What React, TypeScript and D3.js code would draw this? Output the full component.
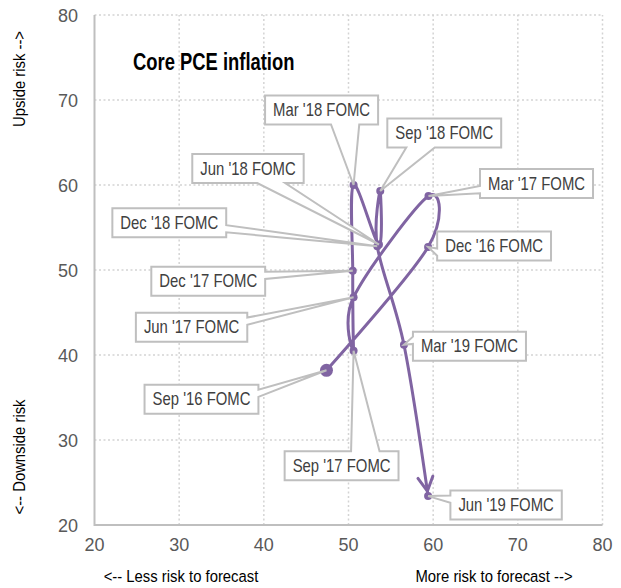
import { useRef, useEffect } from 'react';
import * as d3 from 'd3';

// FOMC meetings, in path order
const meetings = [
  "Sep '16 FOMC",
  "Dec '16 FOMC",
  "Mar '17 FOMC",
  "Jun '17 FOMC",
  "Sep '17 FOMC",
  "Dec '17 FOMC",
  "Mar '18 FOMC",
  "Jun '18 FOMC",
  "Sep '18 FOMC",
  "Dec '18 FOMC",
  "Mar '19 FOMC",
  "Jun '19 FOMC",
];
// less/more risk to forecast
const riskValues = [47.4, 59.4, 59.45, 50.6, 50.6, 50.5, 50.6, 53.6, 53.75, 53.4, 56.55, 59.4];
// downside/upside risk
const skewValues = [38.2, 52.7, 58.7, 46.8, 40.5, 49.9, 60.0, 53.0, 59.3, 52.8, 41.2, 23.4];

const xTicks = [20, 30, 40, 50, 60, 70, 80];
const yTicks = [20, 30, 40, 50, 60, 70, 80];

// callout box centre, offset in px from its point
const labelOffsets = [
  [-125, 29],
  [66, -1],
  [108, -12.5],
  [-162, 30],
  [-12, 115],
  [-144.5, 10.5],
  [-32, -75],
  [-131, -76],
  [64, -58],
  [-208, -23.5],
  [65.5, 1.5],
  [78, 9],
];

const PURPLE = '#8064a2';
const GRID = '#d4d4d4';
const SANS = '"Liberation Sans", Arial, sans-serif';

// condensed look: Arial metrics squeezed horizontally
function narrowText(parent, x, y, str, size, scale, opts = {}) {
  const t = parent
    .append('text')
    .attr('transform', `translate(${x},${y})${opts.rotate ? ` rotate(${opts.rotate})` : ''} scale(${scale},1)`)
    .attr('text-anchor', opts.anchor || 'start')
    .attr('font-family', SANS)
    .attr('font-size', size)
    .attr('font-weight', opts.weight || 'normal')
    .attr('fill', opts.fill || '#000')
    .text(str);
  return t;
}

export default function App() {
  const svgRef = useRef(null);

  useEffect(() => {
    if (!svgRef.current) return;
    document.body.style.margin = '0';

    const svg = d3.select(svgRef.current);
    svg.selectAll('*').remove();

    const x = d3.scaleLinear().domain([20, 80]).range([94.5, 602.5]);
    const y = d3.scaleLinear().domain([20, 80]).range([525, 15]);

    // gridlines
    const grid = svg.append('g');
    grid
      .selectAll('.vg')
      .data(xTicks.slice(1))
      .enter()
      .append('line')
      .attr('x1', (d) => x(d))
      .attr('x2', (d) => x(d))
      .attr('y1', y(20))
      .attr('y2', y(80))
      .attr('stroke', GRID)
      .attr('stroke-width', 1.5)
      .attr('stroke-dasharray', '2,2.5');
    grid
      .selectAll('.hg')
      .data(yTicks.slice(1))
      .enter()
      .append('line')
      .attr('x1', x(20))
      .attr('x2', x(80))
      .attr('y1', (d) => y(d))
      .attr('y2', (d) => y(d))
      .attr('stroke', GRID)
      .attr('stroke-width', 1.5)
      .attr('stroke-dasharray', '2,2.5');

    // axis lines
    svg
      .append('path')
      .attr('d', `M${x(20)},${y(80)}V${y(20)}H${x(80)}`)
      .attr('fill', 'none')
      .attr('stroke', '#bfbfbf')
      .attr('stroke-width', 2);

    // tick labels
    svg
      .selectAll('.xt')
      .data(xTicks)
      .enter()
      .append('text')
      .attr('x', (d) => x(d))
      .attr('y', 551)
      .attr('text-anchor', 'middle')
      .attr('font-family', SANS)
      .attr('font-size', 18)
      .attr('fill', '#595959')
      .text((d) => d);
    svg
      .selectAll('.yt')
      .data(yTicks)
      .enter()
      .append('text')
      .attr('x', 78)
      .attr('y', (d) => y(d) + 6.5)
      .attr('text-anchor', 'end')
      .attr('font-family', SANS)
      .attr('font-size', 18)
      .attr('fill', '#595959')
      .text((d) => d);

    // axis titles
    narrowText(svg, 181, 582, '<-- Less risk to forecast', 16.5, 0.9, { anchor: 'middle' });
    narrowText(svg, 494, 582, 'More risk to forecast -->', 16.5, 0.9, { anchor: 'middle' });
    narrowText(svg, 25, 79, 'Upside risk -->', 16.5, 0.9, { anchor: 'middle', rotate: -90 });
    narrowText(svg, 25, 457, '<-- Downside risk', 16.5, 0.9, { anchor: 'middle', rotate: -90 });

    // chart title
    narrowText(svg, 133, 70, 'Core PCE inflation', 23, 0.8, { weight: 'bold' });

    // arrow head
    svg
      .append('defs')
      .append('marker')
      .attr('id', 'arrow')
      .attr('viewBox', '-20 -12 26 24')
      .attr('markerUnits', 'userSpaceOnUse')
      .attr('markerWidth', 26)
      .attr('markerHeight', 24)
      .attr('refX', 5)
      .attr('refY', 0)
      .attr('orient', 'auto')
      .style('overflow', 'visible')
      .append('path')
      .attr('d', 'M-14,-7.5L0,0L-14,7.5')
      .attr('fill', 'none')
      .attr('stroke', PURPLE)
      .attr('stroke-width', 3)
      .attr('stroke-linecap', 'round');

    const idx = d3.range(meetings.length);
    const line = d3
      .line()
      .x((i) => x(riskValues[i]))
      .y((i) => y(skewValues[i]))
      .curve(d3.curveCardinal.tension(0));

    svg
      .append('path')
      .datum(idx)
      .attr('d', line)
      .attr('fill', 'none')
      .attr('stroke', PURPLE)
      .attr('stroke-width', 3)
      .attr('stroke-linejoin', 'round')
      .attr('marker-end', 'url(#arrow)');

    svg
      .selectAll('.pt')
      .data(idx)
      .enter()
      .append('circle')
      .attr('cx', (i) => x(riskValues[i]))
      .attr('cy', (i) => y(skewValues[i]))
      .attr('r', (i) => (i === 0 ? 6.5 : 4))
      .attr('fill', PURPLE);

    // callout labels
    const labels = svg.append('g');
    const labelScale = 0.85;
    idx.forEach((i) => {
      const tx = x(riskValues[i]);
      const ty = y(skewValues[i]);
      const cx = tx + labelOffsets[i][0];
      const cy = ty + labelOffsets[i][1];
      const g = labels.append('g');
      const shape = g.append('path');
      const text = narrowText(g, cx, cy + 6, meetings[i], 17.5, labelScale, {
        anchor: 'middle',
        fill: '#404040',
      });
      const tw = text.node().getComputedTextLength() * labelScale;
      const w = tw + 16;
      const h = 29;
      const x0 = cx - w / 2;
      const y0 = cy - h / 2;
      const x1 = x0 + w;
      const y1 = y0 + h;
      const dx = tx - cx;
      const dy = ty - cy;
      const vertical = Math.abs(dy) / h > Math.abs(dx) / w;
      let d;
      if (vertical) {
        const a = dx > 0 ? x0 + (7 / 12) * w : x0 + (2 / 12) * w;
        const b = dx > 0 ? x0 + (10 / 12) * w : x0 + (5 / 12) * w;
        if (dy > 0) {
          d = `M${x0},${y0}H${x1}V${y1}H${b}L${tx},${ty}L${a},${y1}H${x0}Z`;
        } else {
          d = `M${x0},${y0}H${a}L${tx},${ty}L${b},${y0}H${x1}V${y1}H${x0}Z`;
        }
      } else {
        const a = dy > 0 ? y0 + (7 / 12) * h : y0 + (2 / 12) * h;
        const b = dy > 0 ? y0 + (10 / 12) * h : y0 + (5 / 12) * h;
        if (dx > 0) {
          d = `M${x0},${y0}H${x1}V${a}L${tx},${ty}L${x1},${b}V${y1}H${x0}Z`;
        } else {
          d = `M${x0},${y0}H${x1}V${y1}H${x0}V${b}L${tx},${ty}L${x0},${a}Z`;
        }
      }
      shape
        .attr('d', d)
        .attr('fill', '#fff')
        .attr('stroke', '#bfbfbf')
        .attr('stroke-width', 2)
        .attr('stroke-linejoin', 'miter');
    });
  }, []);

  return <svg ref={svgRef} width="621" height="588" viewBox="0 0 621 588" style={{ display: 'block' }} />;
}
